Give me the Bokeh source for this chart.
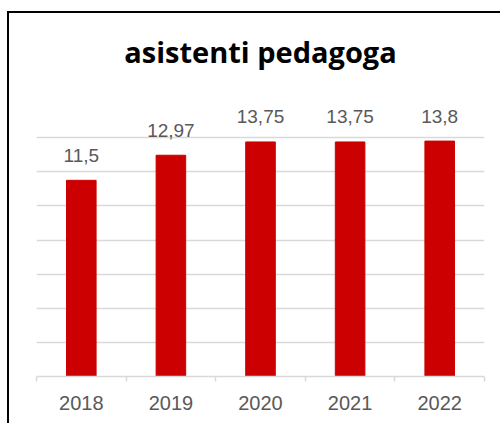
from bokeh.plotting import figure
from bokeh.models import ColumnDataSource, FixedTicker, Title, Range1d
from bokeh.core.properties import value
from bokeh.embed import file_html
from bokeh.resources import INLINE

# data
years = ["2018", "2019", "2020", "2021", "2022"]
values = [11.5, 12.97, 13.75, 13.75, 13.8]
labels = ["11,5", "12,97", "13,75", "13,75", "13,8"]
grid_ticks = [0, 2, 4, 6, 8, 10, 12, 14]
title_text = "asistenti pedagoga"

centers = [i + 0.5 for i in range(len(years))]
bounds = [float(i) for i in range(len(years) + 1)]

src = ColumnDataSource(dict(x=centers, v=values, lbl=labels))

p = figure(width=493, height=412, x_range=Range1d(0, len(years)), y_range=Range1d(0, 17.0),
           output_backend="svg", toolbar_location=None, title=None,
           min_border_left=27, min_border_right=18, min_border_top=73, min_border_bottom=49)
p.styles = {"margin-left": "7px", "margin-top": "11px",
            "border-top": "2px solid #000000", "border-left": "2px solid #000000"}
p.outline_line_color = None
p.background_fill_color = "white"
p.border_fill_color = "white"

p.add_layout(Title(text=title_text, align="center", text_font="Open Sans",
                   text_font_size="29px", text_font_style="bold", text_color="#000000",
                   standoff=32), "above")

p.vbar(x="x", top="v", width=0.33, source=src, fill_color="#cc0000", line_color="#cc0000")
p.text(x="x", y="v", text="lbl", source=src, text_align="center", text_baseline="alphabetic",
       y_offset=-25, text_font=value("Liberation Sans"), text_font_size="19px", text_color="#595959")

p.yaxis.visible = False
p.xgrid.visible = False
p.ygrid.ticker = FixedTicker(ticks=grid_ticks)
p.ygrid.grid_line_color = "#d9d9d9"
p.ygrid.grid_line_width = 1.5

xa = p.xaxis[0]
xa.ticker = FixedTicker(ticks=centers, minor_ticks=bounds)
xa.major_label_overrides = {c: y for c, y in zip(centers, years)}
xa.major_tick_line_color = None
xa.major_tick_out = 0
xa.major_tick_in = 0
xa.minor_tick_line_color = "#d9d9d9"
xa.minor_tick_out = 5
xa.minor_tick_in = 0
xa.minor_tick_line_width = 1.5
xa.axis_line_color = "#d9d9d9"
xa.axis_line_width = 1.5
xa.major_label_standoff = 14
xa.major_label_text_font = "Liberation Sans"
xa.major_label_text_font_size = "20px"
xa.major_label_text_color = "#595959"

open("out.html", "w").write(file_html(p, INLINE))
